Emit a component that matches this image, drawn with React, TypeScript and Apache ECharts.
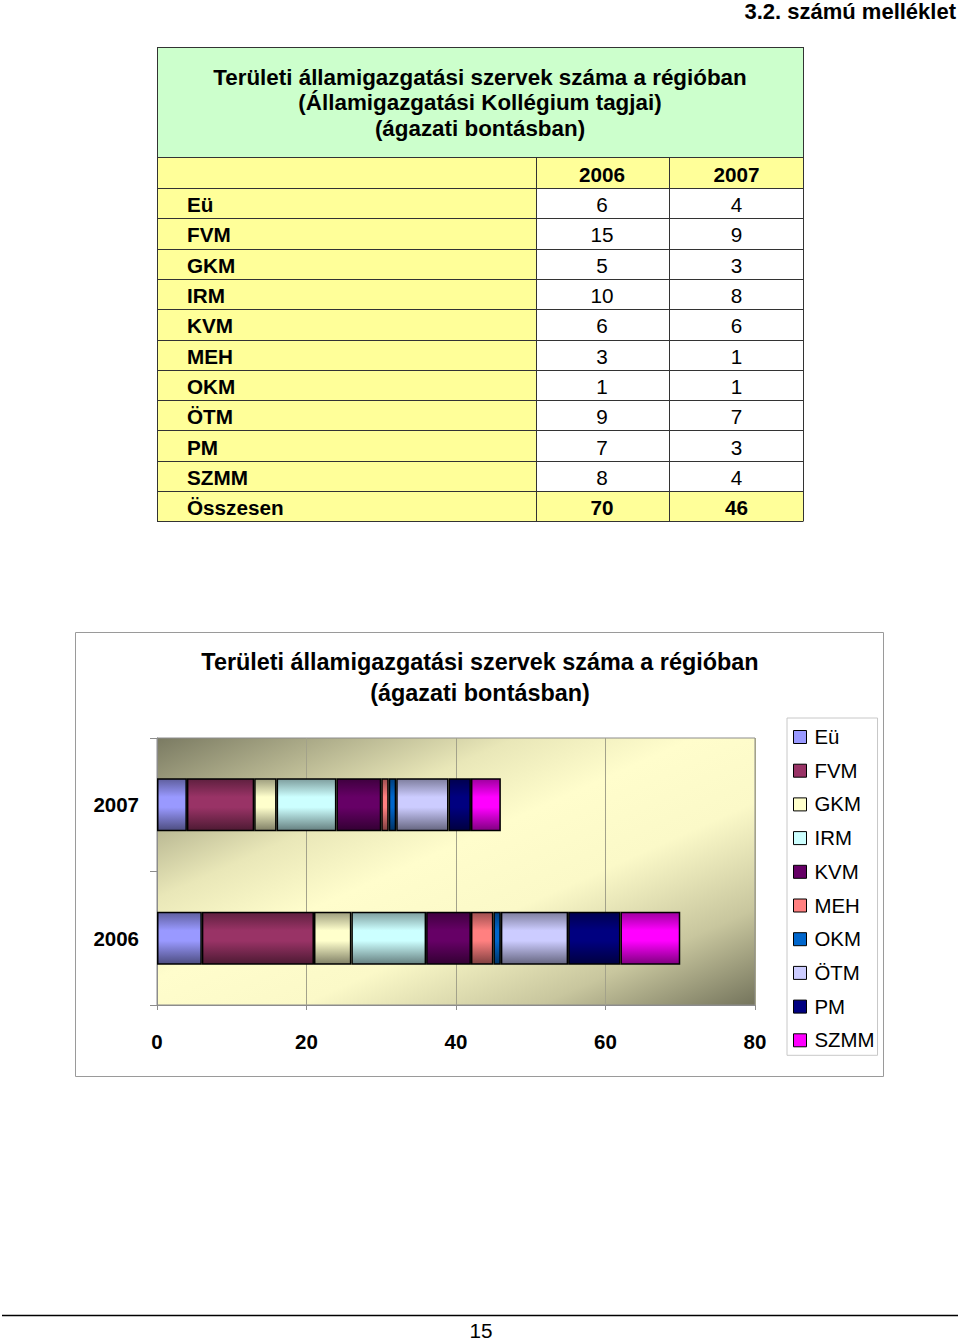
import React, { useEffect, useRef } from "react";
import * as echarts from "echarts";

const pageHeader = "3.2. számú melléklet";
const tableTitleLines = [
  "Területi államigazgatási szervek száma a régióban",
  "(Államigazgatási Kollégium tagjai)",
  "(ágazati bontásban)",
];
const chartTitle = "Területi államigazgatási szervek száma a régióban\n(ágazati bontásban)";
const years = ["2006", "2007"];
const categories = ["Eü", "FVM", "GKM", "IRM", "KVM", "MEH", "OKM", "ÖTM", "PM", "SZMM"];
const values2006 = [6, 15, 5, 10, 6, 3, 1, 9, 7, 8];
const values2007 = [4, 9, 3, 8, 6, 1, 1, 7, 3, 4];
const totalLabel = "Összesen";
const totals = [70, 46];
const colors = ["#9999FF", "#993366", "#FFFFCC", "#CCFFFF", "#660066", "#FF8080", "#0066CC", "#CCCCFF", "#000080", "#FF00FF"];
const xMin = 0;
const xMax = 80;
const xInterval = 20;
const pageNumber = "15";

const FONT = '"Liberation Sans", Arial, sans-serif';

function shade(hex: string, f: number): string {
  const n = parseInt(hex.slice(1), 16);
  const r = Math.round(((n >> 16) & 255) * f);
  const g = Math.round(((n >> 8) & 255) * f);
  const b = Math.round((n & 255) * f);
  return `rgb(${r},${g},${b})`;
}

function buildTableGraphics(): any[] {
  const els: any[] = [];
  const x0 = 157, x1 = 536, x2 = 669, x3 = 803;
  const yTitle = 47, yHead = 157, yData = 188, rowH = 30.3;
  const nRows = categories.length + 1;
  const yEnd = yData + nRows * rowH;
  const line = "#333";
  els.push({ type: "rect", shape: { x: x0, y: yTitle, width: x3 - x0, height: yHead - yTitle }, style: { fill: "#CCFFCC" }, z: 10 });
  els.push({ type: "rect", shape: { x: x0, y: yHead, width: x3 - x0, height: yData - yHead }, style: { fill: "#FFFF99" }, z: 10 });
  els.push({ type: "rect", shape: { x: x0, y: yData, width: x1 - x0, height: yEnd - yData }, style: { fill: "#FFFF99" }, z: 10 });
  els.push({ type: "rect", shape: { x: x1, y: yData, width: x3 - x1, height: (nRows - 1) * rowH }, style: { fill: "#FFFFFF" }, z: 10 });
  els.push({ type: "rect", shape: { x: x1, y: yData + (nRows - 1) * rowH, width: x3 - x1, height: rowH }, style: { fill: "#FFFF99" }, z: 10 });
  const titleYs = [77, 102, 128];
  tableTitleLines.forEach((t, i) => {
    els.push({ type: "text", x: 480, y: titleYs[i], z: 12, style: { text: t, font: `bold 22.4px ${FONT}`, fill: "#000", align: "center", verticalAlign: "middle" } });
  });
  const colC = [(x1 + x2) / 2 - 0.5, (x2 + x3) / 2 + 0.5];
  years.forEach((yr, j) => {
    els.push({ type: "text", x: colC[j], y: (yHead + yData) / 2 + 2, z: 12, style: { text: yr, font: `bold 20.7px ${FONT}`, fill: "#000", align: "center", verticalAlign: "middle" } });
  });
  const rowLabels = [...categories, totalLabel];
  rowLabels.forEach((lab, i) => {
    const cy = yData + i * rowH + rowH / 2 + 1.5;
    const isTotal = i === categories.length;
    const v = isTotal ? totals : [values2006[i], values2007[i]];
    els.push({ type: "text", x: 187, y: cy, z: 12, style: { text: lab, font: `bold 20.7px ${FONT}`, fill: "#000", align: "left", verticalAlign: "middle" } });
    v.forEach((val, j) => {
      els.push({ type: "text", x: colC[j], y: cy, z: 12, style: { text: String(val), font: `${isTotal ? "bold " : ""}20.7px ${FONT}`, fill: "#000", align: "center", verticalAlign: "middle" } });
    });
  });
  const hl = (y: number) => ({ type: "line", z: 11, shape: { x1: x0, y1: y, x2: x3, y2: y }, style: { stroke: line, lineWidth: 1 } });
  els.push(hl(yTitle + 0.5));
  els.push(hl(yHead + 0.5));
  els.push(hl(yData + 0.5));
  for (let i = 1; i <= nRows; i++) els.push(hl(Math.round(yData + i * rowH) + 0.5));
  const vl = (x: number, ya: number) => ({ type: "line", z: 11, shape: { x1: x, y1: ya, x2: x, y2: Math.round(yEnd) + 0.5 }, style: { stroke: line, lineWidth: 1 } });
  els.push(vl(x0 + 0.5, yTitle));
  els.push(vl(x3 + 0.5, yTitle));
  els.push(vl(x1 + 0.5, yHead));
  els.push(vl(x2 + 0.5, yHead));
  return els;
}

export default function App() {
  const ref = useRef<HTMLDivElement>(null);
  useEffect(() => {
    if (!ref.current) return;
    const chart = echarts.init(ref.current, undefined, { renderer: "svg", width: 960, height: 1340 });

    const series = categories.map((name, i) => ({
      name,
      type: "bar",
      stack: "total",
      barWidth: 53,
      data: [values2006[i], values2007[i]],
      itemStyle: {
        color: new echarts.graphic.LinearGradient(0, 0, 0, 1, [
          { offset: 0, color: shade(colors[i], 0.62) },
          { offset: 0.35, color: colors[i] },
          { offset: 0.55, color: colors[i] },
          { offset: 1, color: shade(colors[i], 0.5) },
        ]),
        borderColor: "#000",
        borderWidth: 1.5,
      },
    }));

    const graphics: any[] = [
      { type: "text", x: 956, y: 11, z: 12, style: { text: pageHeader, font: `bold 22px ${FONT}`, fill: "#000", align: "right", verticalAlign: "middle" } },
      ...buildTableGraphics(),
      { type: "rect", z: 1, silent: true, shape: { x: 75.5, y: 632.5, width: 808, height: 444 }, style: { fill: "transparent", stroke: "#9a9a9a", lineWidth: 1 } },
      { type: "line", z: 12, shape: { x1: 2, y1: 1315.5, x2: 958, y2: 1315.5 }, style: { stroke: "#000", lineWidth: 1.3 } },
      { type: "text", x: 481, y: 1330, z: 12, style: { text: pageNumber, font: `20.7px ${FONT}`, fill: "#000", align: "center", verticalAlign: "middle" } },
    ];

    chart.setOption({
      animation: false,
      backgroundColor: "#FFFFFF",
      title: {
        text: chartTitle,
        left: "center",
        top: 641,
        textStyle: { fontFamily: FONT, fontWeight: "bold", fontSize: 23.4, lineHeight: 31, color: "#000" },
      },
      legend: {
        orient: "vertical",
        left: 787,
        top: 718,
        padding: [9, 3, 5, 6],
        itemWidth: 13,
        itemHeight: 13,
        itemGap: 13.7,
        backgroundColor: "#FFFFFF",
        borderColor: "#c8c8c8",
        borderWidth: 1,
        icon: "rect",
        textStyle: { fontFamily: FONT, fontSize: 20.4, lineHeight: 20, color: "#000", padding: [0, 0, 0, 3] },
        data: categories.map((name, i) => ({
          name,
          itemStyle: { color: colors[i], borderColor: "#000", borderWidth: 1 },
        })),
      },
      grid: {
        left: 157,
        top: 738,
        width: 598,
        height: 267,
        show: true,
        borderColor: "#8c8c8c",
        borderWidth: 1,
        backgroundColor: new echarts.graphic.LinearGradient(0, 0, 1, 1, [
          { offset: 0, color: "#7a7a62" },
          { offset: 0.3, color: "#e9e7b8" },
          { offset: 0.45, color: "#fffdcc" },
          { offset: 0.62, color: "#fbf9c8" },
          { offset: 0.82, color: "#c8c69e" },
          { offset: 1, color: "#74745c" },
        ]),
      },
      xAxis: {
        type: "value",
        min: xMin,
        max: xMax,
        interval: xInterval,
        axisLine: { show: true, lineStyle: { color: "#8c8c8c" } },
        axisTick: { show: true, length: 5, lineStyle: { color: "#8c8c8c" } },
        splitLine: { show: true, lineStyle: { color: "#a3a28a", width: 1 } },
        axisLabel: { fontFamily: FONT, fontWeight: "bold", fontSize: 20.5, color: "#000", margin: 26 },
      },
      yAxis: {
        type: "category",
        data: years,
        axisLine: { show: true, lineStyle: { color: "#8c8c8c" } },
        axisTick: { show: true, length: 7, lineStyle: { color: "#8c8c8c" } },
        axisLabel: { fontFamily: FONT, fontWeight: "bold", fontSize: 20.5, color: "#000", margin: 18 },
      },
      series,
      graphic: { elements: graphics },
    });
    return () => chart.dispose();
  }, []);
  return <div ref={ref} style={{ position: "absolute", left: 0, top: 0, width: 960, height: 1340 }} />;
}
